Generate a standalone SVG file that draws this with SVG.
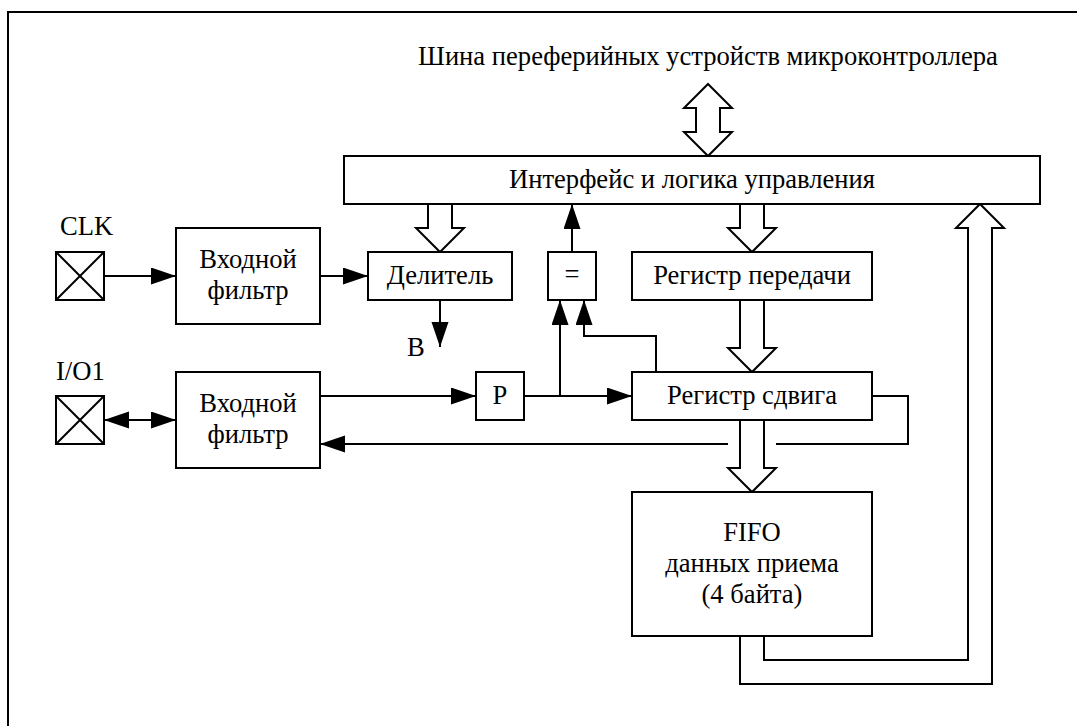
<svg xmlns="http://www.w3.org/2000/svg" width="1077" height="726" viewBox="0 0 1077 726">
<style>
.box{fill:#fff;stroke:#000;stroke-width:2}
.ln{fill:none;stroke:#000;stroke-width:2}
.hol{fill:#fff;stroke:#000;stroke-width:2;stroke-linejoin:miter}
.t{font-family:"Liberation Serif","Times New Roman",serif;font-size:26.6px;fill:#000}
.c{text-anchor:middle}
</style>
<defs>
<marker id="ah" markerUnits="userSpaceOnUse" markerWidth="26" markerHeight="18" refX="25" refY="8.5" orient="auto-start-reverse" viewBox="0 0 26 18">
<path d="M0,0 L25,8.5 L0,17 z" fill="#000"/>
</marker>
</defs>
<rect width="1077" height="726" fill="#fff"/>
<path class="ln" d="M8,726 V12 H1077"/>
<text class="t c" x="708" y="65">Шина переферийных устройств микроконтроллера</text>

<g id="connectors">
<path class="hol" d="M708,84 L732,108 L720,108 L720,132 L732,132 L708,156 L684,132 L696,132 L696,108 L684,108 Z"/>
<path class="ln" d="M104,276 H176" marker-end="url(#ah)"/>
<path class="ln" d="M320,276 H368" marker-end="url(#ah)"/>
<path class="ln" d="M440,300 V347" marker-end="url(#ah)"/>
<path class="ln" d="M572,252 V204" marker-end="url(#ah)"/>
<path class="ln" d="M560,396 V300" marker-end="url(#ah)"/>
<path class="ln" d="M656,372 V336 H584 V300" marker-end="url(#ah)"/>
<path class="ln" d="M104,420 H176" marker-start="url(#ah)" marker-end="url(#ah)"/>
<path class="ln" d="M320,396 H476" marker-end="url(#ah)"/>
<path class="ln" d="M524,396 H632" marker-end="url(#ah)"/>
<path class="ln" d="M872,396 H908 V444 H776"/>
<path class="ln" d="M728,444 H320" marker-end="url(#ah)"/>
<path class="hol" d="M428,204 V228 H416 L440,252 L464,228 H452 V204"/>
<path class="hol" d="M740,204 V228 H728 L752,252 L776,228 H764 V204"/>
<path class="hol" d="M740,300 V348 H728 L752,372 L776,348 H764 V300"/>
<path class="hol" d="M740,420 V468 H728 L752,492 L776,468 H764 V420"/>
<path class="ln" d="M740,636 V684 H992 V228 H1004 L980,204 L956,228 H968 V660 H764 V636"/>
</g>

<g id="interface">
<rect class="box" x="344" y="156" width="696" height="48"/>
<text class="t c" x="692" y="188">Интерфейс и логика управления</text>
</g>
<g id="clk">
<text class="t" x="60" y="235">CLK</text>
<rect class="box" x="56" y="252" width="48" height="48"/>
<path class="ln" d="M56,252 L104,300 M104,252 L56,300"/>
</g>
<g id="filter1">
<rect class="box" x="176" y="228" width="144" height="96"/>
<text class="t c" x="248" y="268">Входной</text>
<text class="t c" x="248" y="299">фильтр</text>
</g>
<g id="divider">
<rect class="box" x="368" y="252" width="144" height="48"/>
<text class="t c" x="440" y="284">Делитель</text>
</g>
<g id="b-label">
<text class="t" x="407" y="356">B</text>
</g>
<g id="compare">
<rect class="box" x="548" y="252" width="48" height="48"/>
<text class="t c" x="572" y="283">=</text>
</g>
<g id="txreg">
<rect class="box" x="632" y="252" width="240" height="48"/>
<text class="t c" x="752" y="284">Регистр передачи</text>
</g>
<g id="io1">
<text class="t" x="56" y="380">I/O1</text>
<rect class="box" x="56" y="396" width="48" height="48"/>
<path class="ln" d="M56,396 L104,444 M104,396 L56,444"/>
</g>
<g id="filter2">
<rect class="box" x="176" y="372" width="144" height="96"/>
<text class="t c" x="248" y="412">Входной</text>
<text class="t c" x="248" y="443">фильтр</text>
</g>
<g id="p">
<rect class="box" x="476" y="372" width="48" height="48"/>
<text class="t c" x="500" y="404">P</text>
</g>
<g id="shiftreg">
<rect class="box" x="632" y="372" width="240" height="48"/>
<text class="t c" x="752" y="404">Регистр сдвига</text>
</g>
<g id="fifo">
<rect class="box" x="632" y="492" width="240" height="144"/>
<text class="t c" x="752" y="541">FIFO</text>
<text class="t c" x="752" y="572">данных приема</text>
<text class="t c" x="752" y="603">(4 байта)</text>
</g>
</svg>
